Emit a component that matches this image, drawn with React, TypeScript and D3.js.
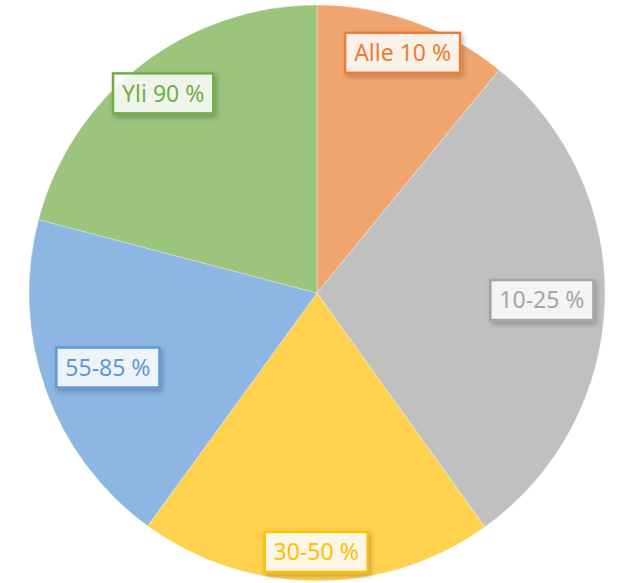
import { useEffect, useRef } from 'react';
import * as d3 from 'd3';

// slices clockwise from 12 o'clock
const categories = ['Alle 10 %', '10-25 %', '30-50 %', '55-85 %', 'Yli 90 %'];
const shares = [10.9, 29.2, 19.9, 19.1, 20.9];

const sliceColors = ['#F1A56E', '#C0C0C0', '#FFD14F', '#8DB7E2', '#9CC47D'];
const strokeColors = ['#ED7D31', '#A5A5A5', '#FFC000', '#5B9BD5', '#70AD47'];
// distance of label centres from the pie centre
const labelRadius = [255, 225, 259, 222, 252];

export default function App() {
  const svgRef = useRef<SVGSVGElement>(null);

  useEffect(() => {
    if (!svgRef.current) return;
    const width = 618;
    const height = 583;
    const cx = 317;
    const cy = 293;
    const r = 288;

    const svg = d3.select(svgRef.current);
    svg.selectAll('*').remove();

    const defs = svg.append('defs');
    const f = defs.append('filter').attr('id', 'shadow')
      .attr('x', '-20%').attr('y', '-30%').attr('width', '150%').attr('height', '180%');
    f.append('feDropShadow')
      .attr('dx', 2).attr('dy', 3).attr('stdDeviation', 2.5)
      .attr('flood-color', '#000').attr('flood-opacity', 0.25);

    const data = categories.map((c, i) => ({ name: c, value: shares[i], i }));
    const pie = d3.pie<any>().value((d: any) => d.value).sort(null);
    const arcs = pie(data);
    const arc = d3.arc<any>().innerRadius(0).outerRadius(r);

    const g = svg.append('g').attr('transform', `translate(${cx},${cy})`);

    g.selectAll('path.slice')
      .data(arcs)
      .enter().append('path')
      .attr('class', 'slice')
      .attr('d', arc as any)
      .attr('fill', (d: any) => sliceColors[d.data.i])
      .attr('stroke', '#fff')
      .attr('stroke-opacity', 0.6)
      .attr('stroke-width', 0.5);

    const labels = g.selectAll('g.label')
      .data(arcs)
      .enter().append('g')
      .attr('class', 'label')
      .attr('transform', (d: any) => {
        const a = (d.startAngle + d.endAngle) / 2;
        const lr = labelRadius[d.data.i];
        return `translate(${Math.sin(a) * lr},${-Math.cos(a) * lr})`;
      });

    labels.each(function (d: any) {
      const sel = d3.select(this);
      const text = sel.append('text')
        .attr('text-anchor', 'middle')
        .attr('dy', '0.36em')
        .attr('font-family', '"Noto Sans", "Open Sans", sans-serif')
        .attr('font-size', 23)
        .attr('fill', strokeColors[d.data.i])
        .text(d.data.name);
      const bb = (text.node() as SVGTextElement).getBBox();
      const w = bb.width + 18;
      const h = 40;
      sel.insert('rect', 'text')
        .attr('x', -w / 2)
        .attr('y', -h / 2)
        .attr('width', w)
        .attr('height', h)
        .attr('fill', 'rgba(255,255,255,0.85)')
        .attr('stroke', strokeColors[d.data.i])
        .attr('stroke-width', 2.5)
        .attr('filter', 'url(#shadow)');
    });

    svg.attr('width', width).attr('height', height);
  }, []);

  return (
    <svg
      ref={svgRef}
      width={618}
      height={583}
      style={{ position: 'absolute', left: 0, top: 0, background: '#fff' }}
    />
  );
}
